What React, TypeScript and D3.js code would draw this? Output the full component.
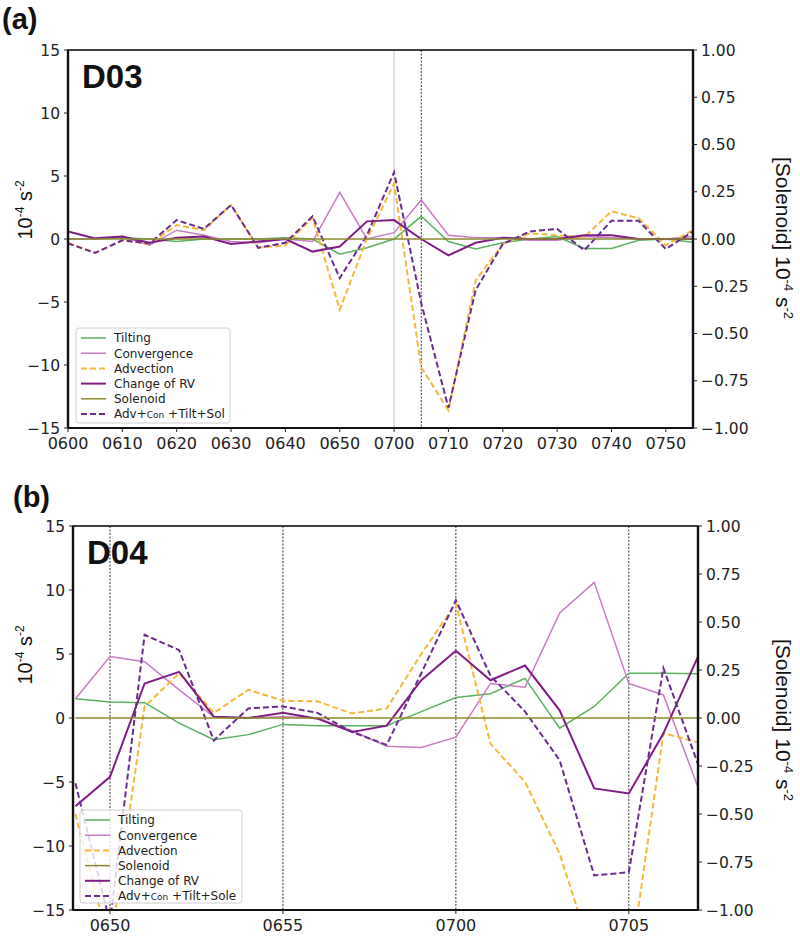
import React, { useEffect, useRef } from 'react';
import * as d3 from 'd3';

// ---------- Panel (a) D03 ----------
const timesA = ["0600","0605","0610","0615","0620","0625","0630","0635","0640","0645","0650","0655","0700","0705","0710","0715","0720","0725","0730","0735","0740","0745","0750","0755"];
const tiltA = [0, 0, 0.1, 0, -0.2, 0, 0, 0, 0.1, 0, -1.2, -0.7, 0, 1.8, -0.2, -0.8, -0.3, 0, 0.2, -0.75, -0.75, -0.1, 0, -0.25];
const convA = [0, 0, 0.2, -0.5, 0.7, 0.3, -0.2, -0.3, 0, -0.2, 3.7, 0, 0.5, 3.1, 0.3, 0.1, 0.1, -0.1, -0.1, 0.2, 0.1, 0, 0, 0.2];
const advA = [-0.3, -1.1, -0.1, -0.4, 1.1, 0.7, 2.7, -0.7, -0.5, 1.7, -5.6, 0.0, 4.4, -10.2, -13.6, -3.3, -0.4, 0.45, 0.3, 0.15, 2.2, 1.65, -0.5, 0.7];
const rvA = [0.6, 0.05, 0.2, -0.3, 0.1, 0.2, -0.4, -0.2, 0, -1.0, -0.6, 1.4, 1.5, 0, -1.3, -0.3, 0.1, 0, 0, 0.3, 0.3, 0, 0, 0];
const solA = [0, 0, 0, 0, 0, 0, 0, 0, 0, 0, 0, 0, 0, 0, 0, 0, 0, 0, 0, 0, 0, 0, 0, 0];
const sumA = [-0.35, -1.1, -0.1, -0.35, 1.5, 0.8, 2.7, -0.7, -0.3, 1.8, -3.1, 0.3, 5.3, -5.1, -13.4, -4.05, -0.4, 0.6, 0.8, -0.9, 1.45, 1.45, -0.8, 0.6];
const xTicksA = ["0600","0610","0620","0630","0640","0650","0700","0710","0720","0730","0740","0750"];
const vLinesA = ["0700","0705"];

// ---------- Panel (b) D04 ----------
const timesB = ["0649","0650","0651","0652","0653","0654","0655","0656","0657","0658","0659","0700","0701","0702","0703","0704","0705","0706","0707"];
const tiltB = [1.5, 1.25, 1.2, -0.4, -1.7, -1.3, -0.5, -0.6, -0.6, -0.6, 0.5, 1.6, 1.9, 3.1, -0.8, 0.9, 3.5, 3.5, 3.45];
const convB = [1.5, 4.8, 4.4, 2.2, 0.1, 0, 0.1, 0, -1.0, -2.2, -2.3, -1.5, 2.7, 2.4, 8.2, 10.6, 2.7, 1.8, -5.4];
const advB = [-7.5, -18, 0.9, 3.5, 0.4, 2.2, 1.35, 1.3, 0.35, 0.75, 5.0, 8.95, -2.0, -5.0, -10.6, -19, -20, -1.2, -1.9];
const solB = [0, 0, 0, 0, 0, 0, 0, 0, 0, 0, 0, 0, 0, 0, 0, 0, 0, 0, 0];
const rvB = [-6.9, -4.6, 2.7, 3.6, 0.1, 0, 0.4, -0.05, -1.1, -0.6, 2.95, 5.25, 2.95, 4.1, 0.6, -5.5, -5.9, -1.2, 4.8];
const sumB = [-5.1, -16, 6.5, 5.3, -1.75, 0.75, 0.9, 0.4, -1.1, -2.1, 3.5, 9.2, 3.3, 0.5, -3.3, -12.3, -12.05, 3.9, -3.6];
const xTicksB = ["0650","0655","0700","0705"];
const vLinesB = ["0650","0655","0700","0705"];

const leftTicks = [15, 10, 5, 0, -5, -10, -15];
const rightTicks = [1.0, 0.75, 0.5, 0.25, 0.0, -0.25, -0.5, -0.75, -1.0];

const toMin = (s: string) => +s.slice(0, 2) * 60 + +s.slice(2);

const COL = {
  tilt: '#5bb15d',
  conv: '#c97cc4',
  adv: '#f6b83a',
  rv: '#801c86',
  sol: '#8e8a2c',
  sum: '#6a2d8e',
};

const TICK_FONT = "'DejaVu Sans', sans-serif";

function drawPanel(svg: any, cfg: any) {
  const { left, right, top, bottom, xMin, xMax, id } = cfg;
  const x = d3.scaleLinear().domain([xMin, xMax]).range([left, right]);
  const y = d3.scaleLinear().domain([-15, 15]).range([bottom, top]);
  const y2 = d3.scaleLinear().domain([-1, 1]).range([bottom, top]);
  const g = svg.append('g');

  g.append('clipPath').attr('id', 'clip' + id)
    .append('rect').attr('x', left).attr('y', top).attr('width', right - left).attr('height', bottom - top);

  cfg.vLines.forEach((v: any) => {
    g.append('line')
      .attr('x1', x(toMin(v.t))).attr('x2', x(toMin(v.t)))
      .attr('y1', top).attr('y2', bottom)
      .attr('stroke', v.color).attr('stroke-width', v.w)
      .attr('stroke-dasharray', v.dash);
  });

  const plot = g.append('g').attr('clip-path', `url(#clip${id})`);
  const times = cfg.times.map(toMin);
  cfg.series.forEach((s: any) => {
    const sc = s.right ? y2 : y;
    const line = d3.line<number>().x((_, i) => x(times[i])).y((d) => sc(d));
    plot.append('path').datum(s.values)
      .attr('d', line).attr('fill', 'none')
      .attr('stroke', s.color).attr('stroke-width', s.width)
      .attr('stroke-dasharray', s.dash || null)
      .attr('stroke-linejoin', 'miter');
  });

  g.append('rect').attr('x', left).attr('y', top).attr('width', right - left).attr('height', bottom - top)
    .attr('fill', 'none').attr('stroke', '#111').attr('stroke-width', 1.6);
  g.append('line').attr('x1', left).attr('x2', left).attr('y1', top).attr('y2', bottom).attr('stroke', '#111').attr('stroke-width', 2.4);
  g.append('line').attr('x1', right).attr('x2', right).attr('y1', top).attr('y2', bottom).attr('stroke', '#111').attr('stroke-width', 2.4);
  g.append('line').attr('x1', left).attr('x2', right).attr('y1', bottom).attr('y2', bottom).attr('stroke', '#111').attr('stroke-width', 2);

  leftTicks.forEach((t) => {
    g.append('line').attr('x1', left - 4).attr('x2', left).attr('y1', y(t)).attr('y2', y(t)).attr('stroke', '#222').attr('stroke-width', 1);
    g.append('text').attr('x', left - 8).attr('y', y(t)).attr('dy', '0.36em')
      .attr('text-anchor', 'end').attr('font-family', TICK_FONT).attr('font-size', 15.5).attr('fill', '#222')
      .text(t < 0 ? '\u2212' + Math.abs(t) : String(t));
  });
  rightTicks.forEach((t) => {
    g.append('line').attr('x1', right).attr('x2', right + 4).attr('y1', y2(t)).attr('y2', y2(t)).attr('stroke', '#222').attr('stroke-width', 1);
    g.append('text').attr('x', right + 8).attr('y', y2(t)).attr('dy', '0.36em')
      .attr('text-anchor', 'start').attr('font-family', TICK_FONT).attr('font-size', 15.5).attr('fill', '#222')
      .text(t < 0 ? '\u2212' + Math.abs(t).toFixed(2) : t.toFixed(2));
  });
  cfg.xTicks.forEach((t: string) => {
    const xx = x(toMin(t));
    g.append('line').attr('x1', xx).attr('x2', xx).attr('y1', bottom).attr('y2', bottom + 4).attr('stroke', '#222').attr('stroke-width', 1);
    g.append('text').attr('x', xx).attr('y', bottom + 15).attr('dy', '0.36em')
      .attr('text-anchor', 'middle').attr('font-family', TICK_FONT).attr('font-size', 16).attr('fill', '#222')
      .text(t);
  });

  const ly = g.append('text')
    .attr('transform', `translate(${cfg.yLabelX},${cfg.yLabelY}) rotate(-90)`)
    .attr('text-anchor', 'middle').attr('font-family', "'Liberation Sans', Arial, sans-serif").attr('font-size', 20).attr('fill', '#111');
  ly.append('tspan').text('10');
  ly.append('tspan').attr('dy', -8).attr('font-size', 12).text('-4');
  ly.append('tspan').attr('dy', 8).text(' s');
  ly.append('tspan').attr('dy', -8).attr('font-size', 12).text('-2');

  const ry = g.append('text')
    .attr('transform', `translate(${cfg.rLabelX},${cfg.rLabelY}) rotate(90)`)
    .attr('text-anchor', 'middle').attr('font-family', "'Liberation Sans', Arial, sans-serif").attr('font-size', 21).attr('fill', '#111');
  ry.append('tspan').text('[Solenoid] 10');
  ry.append('tspan').attr('dy', -8).attr('font-size', 13).text('-4');
  ry.append('tspan').attr('dy', 8).text(' s');
  ry.append('tspan').attr('dy', -8).attr('font-size', 13).text('-2');

  g.append('text').attr('x', cfg.tagX).attr('y', cfg.tagY).attr('font-family', "'Liberation Sans', Arial, sans-serif")
    .attr('font-weight', 'bold').attr('font-size', 29).attr('fill', '#111').text(cfg.tag);
  g.append('text').attr('x', left + 14).attr('y', top + 38).attr('font-family', "'Liberation Sans', Arial, sans-serif")
    .attr('font-weight', 'bold').attr('font-size', 33).attr('fill', '#111').text(cfg.title);

  const L = cfg.legend;
  g.append('rect').attr('x', L.x).attr('y', L.y).attr('width', L.w).attr('height', L.h).attr('rx', 3)
    .attr('fill', 'white').attr('fill-opacity', 0.8).attr('stroke', '#d0d0d0').attr('stroke-width', 1);
  L.items.forEach((it: any, i: number) => {
    const yy = L.y + 10 + i * 15.2;
    g.append('line').attr('x1', L.x + 5).attr('x2', L.x + 30).attr('y1', yy).attr('y2', yy)
      .attr('stroke', it.color).attr('stroke-width', it.width).attr('stroke-dasharray', it.dash || null);
    const tx = g.append('text').attr('x', L.x + 38).attr('y', yy).attr('dy', '0.36em')
      .attr('font-family', TICK_FONT).attr('font-size', 12).attr('fill', '#222');
    if (it.small) {
      tx.append('tspan').text(it.label[0]);
      tx.append('tspan').attr('font-size', 9).text(it.label[1]);
      tx.append('tspan').text(it.label[2]);
    } else {
      tx.text(it.label);
    }
  });
}

export default function App() {
  const ref = useRef<SVGSVGElement>(null);
  useEffect(() => {
    const svg = d3.select(ref.current);
    svg.selectAll('*').remove();

    const sTilt = (v: number[]) => ({ values: v, color: COL.tilt, width: 1.5 });
    const sConv = (v: number[]) => ({ values: v, color: COL.conv, width: 1.5 });
    const sAdv = (v: number[]) => ({ values: v, color: COL.adv, width: 2, dash: '6,3' });
    const sRv = (v: number[]) => ({ values: v, color: COL.rv, width: 2 });
    const sSol = (v: number[]) => ({ values: v, color: COL.sol, width: 1.5, right: true });
    const sSum = (v: number[]) => ({ values: v, color: COL.sum, width: 2, dash: '6,3' });

    drawPanel(svg, {
      id: 'a', left: 68, right: 693, top: 50, bottom: 428,
      xMin: toMin('0600'), xMax: toMin('0755'),
      times: timesA,
      series: [sTilt(tiltA), sConv(convA), sAdv(advA), sRv(rvA), sSum(sumA), sSol(solA)],
      xTicks: xTicksA,
      vLines: [
        { t: vLinesA[0], color: '#c4c4c4', w: 1, dash: null },
        { t: vLinesA[1], color: '#333', w: 1, dash: '2,1.5' },
      ],
      yLabelX: 32, yLabelY: 210, rLabelX: 776, rLabelY: 238,
      tag: '(a)', tagX: 2, tagY: 29, title: 'D03',
      legend: {
        x: 76, y: 328, w: 154, h: 95,
        items: [
          { label: 'Tilting', color: COL.tilt, width: 1.5 },
          { label: 'Convergence', color: COL.conv, width: 1.5 },
          { label: 'Advection', color: COL.adv, width: 2, dash: '6,3' },
          { label: 'Change of RV', color: COL.rv, width: 2 },
          { label: 'Solenoid', color: COL.sol, width: 1.5 },
          { label: ['Adv+', 'Con', ' +Tilt+Sol'], small: true, color: COL.sum, width: 2, dash: '6,3' },
        ],
      },
    });

    drawPanel(svg, {
      id: 'b', left: 73, right: 698, top: 526, bottom: 910,
      xMin: toMin('0648') + 0.93, xMax: toMin('0707'),
      times: timesB,
      series: [sTilt(tiltB), sConv(convB), sAdv(advB), sRv(rvB), sSum(sumB), sSol(solB)],
      xTicks: xTicksB,
      vLines: vLinesB.map((t) => ({ t, color: '#333', w: 1, dash: '2,1.5' })),
      yLabelX: 32, yLabelY: 655, rLabelX: 776, rLabelY: 720,
      tag: '(b)', tagX: 13, tagY: 507, title: 'D04',
      legend: {
        x: 80, y: 810, w: 162, h: 93,
        items: [
          { label: 'Tilting', color: COL.tilt, width: 1.5 },
          { label: 'Convergence', color: COL.conv, width: 1.5 },
          { label: 'Advection', color: COL.adv, width: 2, dash: '6,3' },
          { label: 'Solenoid', color: COL.sol, width: 1.5 },
          { label: 'Change of RV', color: COL.rv, width: 2 },
          { label: ['Adv+', 'Con', ' +Tilt+Sole'], small: true, color: COL.sum, width: 2, dash: '6,3' },
        ],
      },
    });
  }, []);
  return (
    <svg ref={ref} width={800} height={938} style={{ position: 'absolute', left: 0, top: 0, background: 'white' }} />
  );
}
